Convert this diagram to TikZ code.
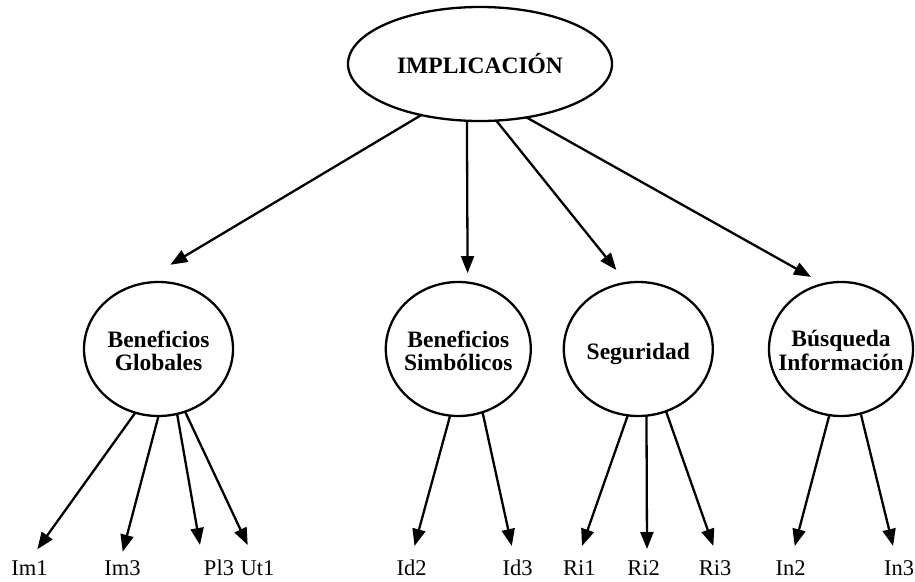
\documentclass[tikz,border=0pt]{standalone}
\usepackage{fontspec}
\setmainfont{Liberation Serif}
\usetikzlibrary{arrows.meta,shapes.geometric}
\begin{document}
\begin{tikzpicture}[x=1pt,y=-1pt,
  every node/.style={inner sep=0pt, outer sep=0pt},
  lbl/.style={font=\fontsize{23.5}{23.3}\selectfont\bfseries, align=center},
  oval/.style={draw, line width=2.3pt, ellipse, minimum width=#1, minimum height=134pt},
  leaf/.style={anchor=base, font=\fontsize{22.5}{24}\selectfont, text height=16pt, text depth=0pt},
  arr/.style={line width=2.3pt, -{Triangle[length=17pt,width=13pt]}},
]
\useasboundingbox (0,0) rectangle (915,581);

% top node
\node[draw, ellipse, line width=2.3pt, minimum width=264pt, minimum height=114pt,
      label={[lbl]center:IMPLICACIÓN}] (imp) at (480,64) {};

% factor nodes
\node[oval=149pt, label={[lbl,yshift=-1.5pt]center:Beneficios\\Globales}] (bg) at (158.5,349) {};
\node[oval=145pt, label={[lbl,yshift=-1.5pt]center:Beneficios\\Simbólicos}] (bs) at (458.3,349) {};
\node[oval=149pt, label={[lbl,yshift=-4.5pt]center:Seguridad}] (seg) at (638.3,349) {};
\node[oval=144pt, label={[lbl,yshift=-1.5pt]center:Búsqueda\\Información}] (bi) at (841,349) {};

% indicator labels
\node[leaf] (im1) at (29.5,575) {Im1};
\node[leaf] (im3) at (122.5,575) {Im3};
\node[leaf] (pl3) at (219,575) {Pl3};
\node[leaf] (ut1) at (257.5,575) {Ut1};
\node[leaf] (id2) at (411.7,575) {Id2};
\node[leaf] (id3) at (517.7,575) {Id3};
\node[leaf] (ri1) at (579.4,575) {Ri1};
\node[leaf] (ri2) at (643.7,575) {Ri2};
\node[leaf] (ri3) at (715,575) {Ri3};
\node[leaf] (in2) at (790.6,575) {In2};
\node[leaf] (in3) at (899.2,575) {In3};

% top arrows
\draw[arr, shorten >=39.5pt] (imp.221.5) -- (bg.109.4);
\draw[arr, shorten >=9.5pt] (imp.257.1) -- (bs.82.7);
\draw[arr, shorten >=16.5pt] (imp.286.7) -- (seg.100.3);
\draw[arr, shorten >=14.5pt] (imp.311) -- (bi.105.8);

% indicator arrows
\draw[arr] (bg.250.4) -- ([xshift=7.8pt,yshift=9.7pt]im1.north);
\draw[arr] (bg.270) -- ([xshift=0.2pt,yshift=7.3pt]im3.north);
\draw[arr] (bg.286.7) -- ([xshift=-19pt,yshift=14pt]pl3.north);
\draw[arr] (bg.293.9) -- ([xshift=-9.8pt,yshift=14pt]ut1.north);
\draw[arr] (bs.263.6) -- ([xshift=2.8pt,yshift=13pt]id2.north);
\draw[arr] (bs.291.6) -- ([xshift=-5.9pt,yshift=13pt]id3.north);
\draw[arr] (seg.261.4) -- ([xshift=2.6pt,yshift=13pt]ri1.north);
\draw[arr] (seg.277.2) -- ([xshift=3.3pt,yshift=10pt]ri2.north);
\draw[arr] (seg.294.5) -- ([xshift=-1.6pt,yshift=13pt]ri3.north);
\draw[arr] (bi.260.5) -- ([xshift=4.1pt,yshift=13pt]in2.north);
\draw[arr] (bi.287.3) -- ([xshift=-6.1pt,yshift=13pt]in3.north);
\end{tikzpicture}
\end{document}
